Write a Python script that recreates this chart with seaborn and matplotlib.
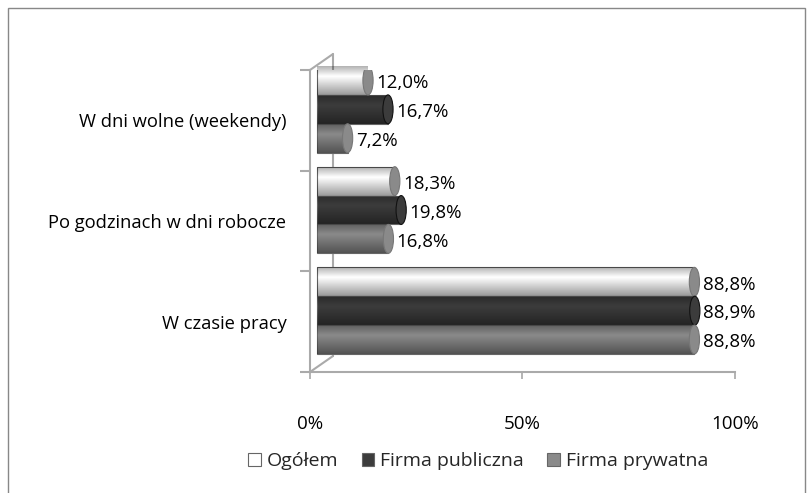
import matplotlib
matplotlib.use("Agg")
import matplotlib.pyplot as plt
from matplotlib.patches import Rectangle, Ellipse, Patch
from matplotlib.transforms import ScaledTranslation
import seaborn as sns
import pandas as pd
import numpy as np

categories = ["W dni wolne (weekendy)", "Po godzinach w dni robocze", "W czasie pracy"]
series = ["Ogółem", "Firma publiczna", "Firma prywatna"]
ogolem = [12.0, 18.3, 88.8]
publiczna = [16.7, 19.8, 88.9]
prywatna = [7.2, 16.8, 88.8]
colors = ["#ffffff", "#3c3c3c", "#8a8a8a"]
xticks = [0, 50, 100]
xtick_labels = ["0%", "50%", "100%"]

rows = []
for s, vals in zip(series, [ogolem, publiczna, prywatna]):
    for c, v in zip(categories, vals):
        rows.append({"Kategoria": c, "Seria": s, "Wartość": v})
df = pd.DataFrame(rows)

sns.set_theme(style="white")
plt.rcParams['font.family'] = ['Open Sans', 'DejaVu Sans']

fig = plt.figure(figsize=(8.12, 4.93), dpi=100)
ax = fig.add_axes([310/812, 1-372/493, 425/812, 302/493])
sns.barplot(data=df, y="Kategoria", x="Wartość", hue="Seria", hue_order=series,
            order=categories, palette=colors, orient="h", ax=ax, width=0.86,
            edgecolor="#666666", linewidth=0.8, legend=False, saturation=1)

# 3D depth offsets (display shift)
shift = ScaledTranslation(7/100, 11/100, fig.dpi_scale_trans)

# back wall lines
gray = "#aaaaaa"
dx, dy = 23/425, 16/302
ax.plot([0, dx], [0, dy], transform=ax.transAxes, color=gray, lw=1.5, zorder=0.5, clip_on=False)
ax.plot([dx, dx], [dy, 1 + dy], transform=ax.transAxes, color=gray, lw=1.5, zorder=0.5, clip_on=False)
ax.plot([0, dx], [1, 1 + dy], transform=ax.transAxes, color=gray, lw=1.5, zorder=0.5, clip_on=False)

# cylinder-like shading and caps
for cont, col in zip(ax.containers, colors):
    for p in cont:
        p.set_transform(ax.transData + shift)
        p.set_zorder(2)
        x0, y0 = p.get_x(), p.get_y()
        w, h = p.get_width(), p.get_height()
        grad = np.linspace(0, 1, 64)
        alpha = np.where(grad < 0.35, 0.3 * (0.35 - grad) / 0.35, 0.4 * (grad - 0.35) / 0.65)
        img = np.zeros((64, 1, 4))
        img[:, 0, 3] = alpha
        im = ax.imshow(img, extent=[x0, x0 + w, y0 + h, y0], aspect="auto", zorder=2.1,
                       interpolation="bilinear")
        im.set_transform(ax.transData + shift)
        im.set_clip_path(p)
        cap = Ellipse((x0 + w, y0 + h / 2), width=2.4, height=h,
                      facecolor="#8a8a8a" if col == "#ffffff" else col,
                      edgecolor="#111111" if col == "#3c3c3c" else "#777777",
                      linewidth=0.8, zorder=2.2)
        cap.set_transform(ax.transData + shift)
        ax.add_patch(cap)

for cont, vals in zip(ax.containers, [ogolem, publiczna, prywatna]):
    for p, v in zip(cont, vals):
        ax.annotate(f"{v:.1f}".replace('.', ',') + "%",
                    xy=(p.get_x() + p.get_width(), p.get_y() + p.get_height() / 2),
                    xycoords=ax.transData + shift, xytext=(6, -2), textcoords="offset points",
                    va="center", ha="left", fontsize=13.5, color="#000000")

ax.set_xlim(0, 100)
ax.set_ylim(2.5, -0.5)
ax.set_xticks(xticks)
ax.set_xticklabels(xtick_labels, fontsize=13.5, color="#000000")
ax.set_xlabel("")
ax.set_ylabel("")
ax.tick_params(axis="x", length=5, pad=26, color=gray, direction="out", bottom=True)
ax.set_yticks([0, 1, 2])
ax.set_yticklabels(categories, fontsize=13.2, color="#000000")
ax.set_yticks([-0.5, 0.5, 1.5, 2.5], minor=True)
ax.tick_params(axis="y", which="major", length=0, pad=17)
ax.tick_params(axis="y", which="minor", length=7, color=gray, left=True, direction="out", width=1.5)
for sp in ["top", "right"]:
    ax.spines[sp].set_visible(False)
for sp in ["left", "bottom"]:
    ax.spines[sp].set_color(gray)
    ax.spines[sp].set_linewidth(1.5)

handles = [Patch(facecolor=c, edgecolor="#666666", linewidth=0.8) for c in colors]
fig.legend(handles, series, loc="center", bbox_to_anchor=(0.589, 1-461/493), ncol=3,
           frameon=False, fontsize=14, handlelength=0.65, handleheight=0.65,
           handletextpad=0.3, columnspacing=1.2)

fig.patches.append(Rectangle((8/812, -0.05), 797/812, 485/493 + 0.05, transform=fig.transFigure,
                             fill=False, edgecolor="#888888", linewidth=1))

fig.savefig("out.png", dpi=100)
